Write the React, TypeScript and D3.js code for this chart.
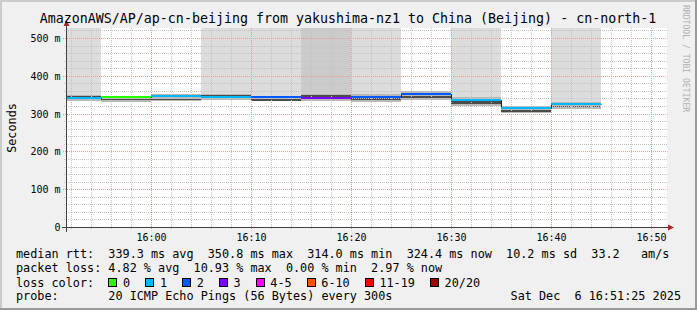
import React from "react";
import * as d3 from "d3";

const W = 697;
const H = 310;

const titleText =
  "AmazonAWS/AP/ap-cn-beijing from yakushima-nz1 to China (Beijing) - cn-north-1";
const yAxisTitle = "Seconds";
const watermark = "RRDTOOL / TOBI OETIKER";

// 5-minute intervals (start times)
const intervalStarts = [
  "15:50", "15:55", "16:00", "16:05", "16:10", "16:15",
  "16:20", "16:25", "16:30", "16:35", "16:40",
];
const medianMs = [340.8, 343.4, 346.0, 343.0, 342.6, 341.3, 344.7, 350.8, 337.0, 314.0, 324.4];
const lossCount = [1, 0, 1, 1, 2, 3, 2, 2, 1, 1, 1];
const smokeHiMs = [351.0, 346.6, 352.6, 352.6, 348.7, 352.6, 352.6, 360.5, 344.0, 322.0, 332.4];
const smokeLoMs = [334.0, 332.4, 334.0, 336.8, 334.0, 334.0, 330.8, 336.8, 321.0, 302.0, 314.0];
const coreHiMs = [348.7, 340.3, 340.8, 350.0, 339.5, 350.0, 342.0, 347.4, 334.0, 311.3, 322.0];
const coreLoMs = [343.4, 336.8, 336.8, 346.6, 335.0, 345.0, 336.8, 343.0, 326.0, 304.5, 317.6];
const offscaleLevel = [1, 0, 0, 1, 1, 2, 1, 0, 1, 0, 1];

const graphStart = "15:51:30";
const graphEnd = "16:51:30";
const xTickLabels = ["16:00", "16:10", "16:20", "16:30", "16:40", "16:50"];
const yTickValues = [0, 100, 200, 300, 400, 500];
const yTickLabels = ["0", "100 m", "200 m", "300 m", "400 m", "500 m"];

const lossLabels = ["0", "1", "2", "3", "4-5", "6-10", "11-19", "20/20"];
const lossColors = ["#26ff00", "#00b8ff", "#0059ff", "#7e00ff", "#ff00ff", "#ff5500", "#ff0000", "#a10000"];

const legendLine1 = "median rtt:  339.3 ms avg  350.8 ms max  314.0 ms min  324.4 ms now  10.2 ms sd  33.2   am/s";
const legendLine2 = "packet loss: 4.82 % avg  10.93 % max  0.00 % min  2.97 % now";
const legendLine3 = "loss color:";
const legendLine4 = "probe:       20 ICMP Echo Pings (56 Bytes) every 300s";
const dateText = "Sat Dec  6 16:51:25 2025";

const toDate = (s: string) => {
  const [h, m, sec] = s.split(":").map(Number);
  return new Date(2025, 11, 6, h, m, sec || 0);
};

const lossIndex = (c: number) =>
  c <= 3 ? c : c <= 5 ? 4 : c <= 10 ? 5 : c <= 19 ? 6 : 7;

const MONO = "'DejaVu Sans Mono', monospace";
const crisp = (v: number) => Math.floor(v) + 0.5;

export default function App() {
  const plotLeft = 66.5;
  const plotRight = 666.5;
  const plotTop = 28;
  const x = d3.scaleTime().domain([toDate(graphStart), toDate(graphEnd)]).range([plotLeft, plotRight]);
  const y = d3.scaleLinear().domain([0, 500]).range([227.5, 38.5]);
  const yBase = y(0);

  const minorX = d3.timeMinute.every(2)!.range(toDate(graphStart), toDate(graphEnd));
  const majorX = xTickLabels.map(toDate);
  const minorY = d3.range(20, 521, 20).filter((v) => v % 100 !== 0);

  const intervals = intervalStarts.map((s, i) => {
    const t0 = toDate(s);
    const t1 = d3.timeMinute.offset(t0, 5);
    const x0 = Math.max(Math.floor(x(t0)), 67);
    const x1 = Math.floor(x(t1));
    return { x0, x1, i };
  });

  const stepPts: [number, number][] = [];
  intervals.forEach(({ x0, x1, i }) => {
    stepPts.push([x0 + 0.5, crisp(y(medianMs[i]))]);
    stepPts.push([x1 + 0.5, crisp(y(medianMs[i]))]);
  });
  const stepPath = d3.line().curve(d3.curveLinear)(stepPts) || "";

  // legend box positions
  const charW = 7.1;
  let lx = 108.3;
  const legendItems = lossLabels.map((lab, i) => {
    const item = { bx: lx, tx: lx + 14.8, lab, color: lossColors[i] };
    lx = lx + 14.8 + lab.length * charW + 14.9;
    return item;
  });

  return (
    <svg width={W} height={H} style={{ position: "absolute", left: 0, top: 0, display: "block" }}>
      <rect x={0} y={0} width={W} height={H} fill="#f0f0f0" />
      {/* frame */}
      <rect x={0} y={0} width={W} height={2} fill="#cbcbcb" />
      <rect x={0} y={0} width={2} height={H} fill="#cbcbcb" />
      <rect x={0} y={H - 2} width={W} height={2} fill="#999999" />
      <rect x={W - 2} y={0} width={2} height={H} fill="#999999" />

      {/* canvas */}
      <rect x={67} y={plotTop} width={plotRight - 66.5} height={yBase - plotTop} fill="#ffffff" />

      {/* off-scale backgrounds */}
      {intervals.map(({ x0, x1, i }) =>
        offscaleLevel[i] > 0 ? (
          <rect key={"bg" + i} x={x0} y={plotTop} width={x1 - x0}
            height={Math.round(y(smokeHiMs[i])) - plotTop}
            fill={offscaleLevel[i] === 2 ? "#cbcbcb" : "#dcdcdc"} shapeRendering="crispEdges" />
        ) : null
      )}
      {/* smoke */}
      {intervals.map(({ x0, x1, i }) => (
        <g key={"sm" + i} shapeRendering="crispEdges">
          <rect x={x0} y={y(smokeHiMs[i])} width={x1 - x0} height={y(smokeLoMs[i]) - y(smokeHiMs[i])} fill="#b8b8b8" />
          <rect x={x0} y={y(coreHiMs[i])} width={x1 - x0} height={y(coreLoMs[i]) - y(coreHiMs[i])} fill="#4a4a4a" />
        </g>
      ))}

      {/* grid */}
      <g strokeDasharray="1,1" strokeWidth={1}>
        {minorX.filter((t) => t.getMinutes() % 10 !== 0).map((t, k) => (
          <line key={"mx" + k} x1={crisp(x(t))} x2={crisp(x(t))}
            y1={plotTop} y2={yBase + 2} stroke="#c4c4c4" />
        ))}
        {minorY.map((v) => (
          <line key={"my" + v} x1={64} x2={plotRight + 1} y1={crisp(y(v))} y2={crisp(y(v))} stroke="#c4c4c4" />
        ))}
        {majorX.map((t, k) => (
          <line key={"Mx" + k} x1={crisp(x(t))} x2={crisp(x(t))}
            y1={plotTop} y2={yBase + 3} stroke="#e89a9a" />
        ))}
        {yTickValues.filter((v) => v > 0).map((v) => (
          <line key={"My" + v} x1={63} x2={plotRight + 1} y1={crisp(y(v))} y2={crisp(y(v))} stroke="#e89a9a" />
        ))}
      </g>

      {/* median step line and loss-coloured medians */}
      <path d={stepPath} fill="none" stroke="#202020" strokeWidth={1} />
      {intervals.map(({ x0, x1, i }) => (
        <rect key={"md" + i} x={x0} y={Math.floor(y(medianMs[i])) - 1} width={x1 - x0} height={2}
          fill={lossColors[lossIndex(lossCount[i])]} shapeRendering="crispEdges" />
      ))}

      {/* axes */}
      <line x1={66.5} x2={66.5} y1={232} y2={24} stroke="#404040" />
      <line x1={62} x2={670} y1={227.5} y2={227.5} stroke="#404040" />
      <path d="M63.5,26 L69.5,26 L66.5,20 Z" fill="#a02828" />
      <path d="M668,224.5 L668,230.5 L674,227.5 Z" fill="#a02828" />

      {/* tick labels */}
      <g fontFamily={MONO} fontSize={10} fill="#000">
        {yTickValues.map((v, k) => (
          <text key={"yl" + v} x={60.5} y={y(v) + 3.5} textAnchor="end" style={{ whiteSpace: "pre" }}>
            {yTickLabels[k]}
          </text>
        ))}
        {majorX.map((t, k) => (
          <text key={"xl" + k} x={x(t)} y={241} textAnchor="middle">{xTickLabels[k]}</text>
        ))}
      </g>

      {/* title */}
      <text x={348} y={23} textAnchor="middle" fontFamily={MONO} fontSize={13.3} fill="#000">{titleText}</text>
      <text transform="translate(15.5,128) rotate(-90)" textAnchor="middle" fontFamily={MONO} fontSize={11.8} fill="#000">
        {yAxisTitle}
      </text>
      <text transform="translate(683,5) rotate(90)" textAnchor="start" fontFamily={MONO} fontSize={8.1} fill="#b0b0b0">
        {watermark}
      </text>

      {/* legend */}
      <g fontFamily={MONO} fontSize={11.8} fill="#000" style={{ whiteSpace: "pre" }}>
        <text x={16} y={258} xmlSpace="preserve">{legendLine1}</text>
        <text x={16} y={272.3} xmlSpace="preserve">{legendLine2}</text>
        <text x={16} y={286.5} xmlSpace="preserve">{legendLine3}</text>
        {legendItems.map((it, k) => (
          <g key={"lg" + k}>
            <rect x={Math.round(it.bx) + 0.5} y={278.5} width={8} height={8} fill={it.color} stroke="#000" strokeWidth={1} />
            <text x={it.tx} y={286.5}>{it.lab}</text>
          </g>
        ))}
        <text x={16} y={300.3} xmlSpace="preserve">{legendLine4}</text>
        <text x={681} y={300.3} textAnchor="end" xmlSpace="preserve">{dateText}</text>
      </g>
    </svg>
  );
}
